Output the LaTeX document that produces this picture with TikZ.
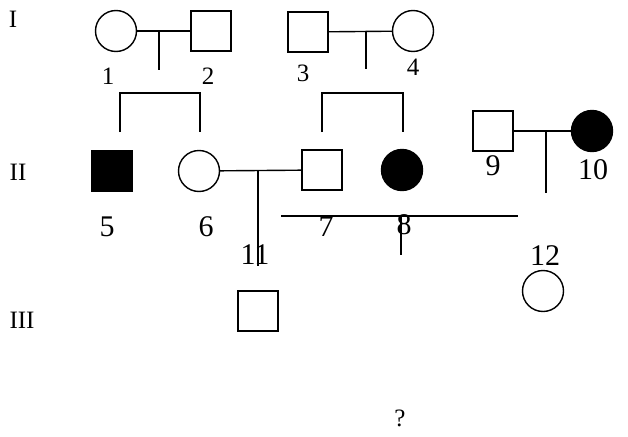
\documentclass[tikz,border=0pt]{standalone}
\usepackage{fontspec}
\setmainfont{Liberation Serif}
\usetikzlibrary{positioning}

\begin{document}
\begin{tikzpicture}[
		x=1pt, y=-1pt, line width=1.4pt,
		male/.style = {rectangle, draw, inner sep=0pt, minimum size=40pt},
		female/.style = {circle, draw, inner sep=0pt, minimum size=41pt},
		sick/.style = {fill=black},
		num/.style = {font=\fontsize{30}{32}\selectfont, inner sep=0pt},
		smallnum/.style = {font=\fontsize{25}{27}\selectfont, inner sep=0pt},
		gen/.style = {font=\fontsize{25}{27}\selectfont, inner sep=0pt},
	]
	\useasboundingbox (0,0) rectangle (628,436);

	% generation labels
	\node[gen](g1) at (13,19){I};
	\node[gen](g2) at (18,172){II};
	\node[gen](g3) at (22,320){III};

	% generation I
	\node[female](p1) at (116,31){};
	\node[male](p2) at (211,31){};
	\node[male](p3) at (308,32){};
	\node[female](p4) at (413,31){};
	\node[smallnum](l1) at (108,76){1};
	\node[smallnum](l2) at (208,76){2};
	\node[smallnum](l3) at (303,73){3};
	\node[smallnum](l4) at (413,67){4};

	\coordinate(c12) at (159,70);
	\coordinate(c34) at (366,69);
	\draw(p1)--(p2);
	\draw(p3)--(p4);
	\draw(c12|-p1)--(c12);
	\draw(c34|-p3)--(c34);

	% sibship brackets
	\coordinate(s5) at (120,132);
	\coordinate(s6) at (200,132);
	\coordinate(s7) at (322,132);
	\coordinate(s8) at (403,132);
	\draw(s5)--++(0,-39)-|(s6);
	\draw(s7)--++(0,-39)-|(s8);

	% generation II
	\node[male, sick](p5) at (112,171){};
	\node[female](p6) at (199,171){};
	\node[male](p7) at (322,170){};
	\node[female, sick](p8) at (402,170){};
	\node[male](p9) at (493,131){};
	\node[female, sick](p10) at (592,131){};
	\node[num](l5) at (107,227){5};
	\node[num](l6) at (206,227){6};
	\node[num](l7) at (326,227){7};
	\node[num](l8) at (404,225){8};
	\node[num](l9) at (493,166){9};
	\node[num](l10) at (593,170){10};

	\coordinate(c67) at (258,266);
	\coordinate(c910) at (546,193);
	\draw(p6)--(p7);
	\draw(p9)--(p10);
	\draw(c67|-p6)--(c67);
	\draw(c910|-p9)--(c910);

	\coordinate(hl) at (281,216);
	\coordinate(hr) at (518,216);
	\coordinate(hd) at (401,255);
	\draw(hl)--(hr);
	\draw(hd|-hl)--(hd);

	% generation III
	\node[num](l11) at (255,255){11};
	\node[num](l12) at (545,256){12};
	\node[male](p11) at (258,311){};
	\node[female](p12) at (543,291){};
	\node[font=\fontsize{25}{27}\selectfont, inner sep=0pt](q) at (400,418){?};
\end{tikzpicture}
\end{document}
